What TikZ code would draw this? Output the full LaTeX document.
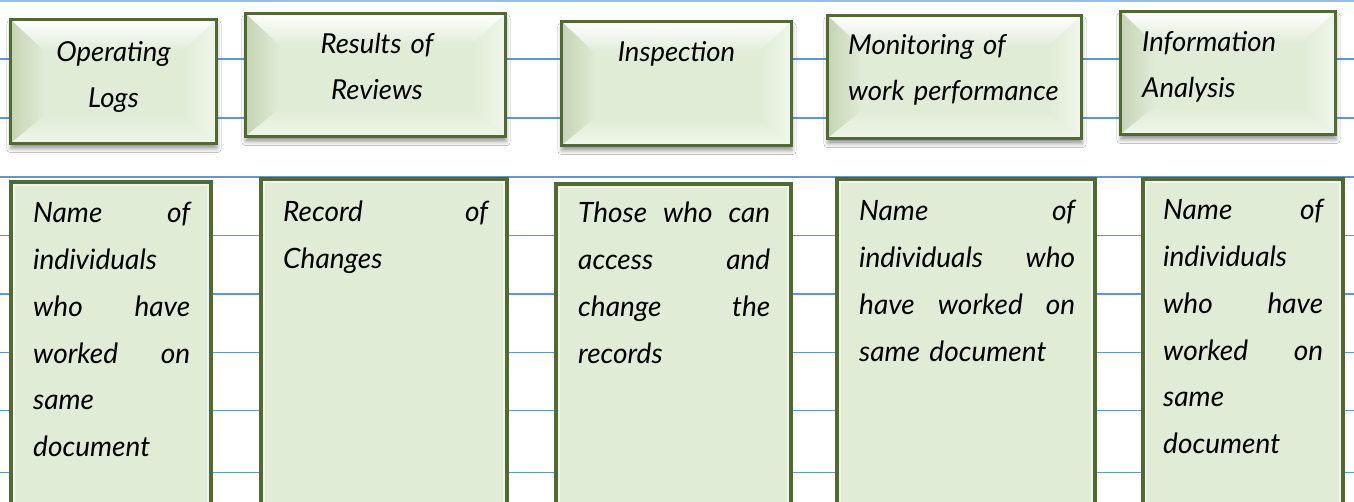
\documentclass[tikz,border=0pt]{standalone}
\usepackage{fontspec}
\setmainfont{Lato}
\usetikzlibrary{shadows.blur}
\definecolor{lineblue}{RGB}{95,152,214}
\definecolor{toplineblue}{RGB}{150,190,232}
\definecolor{dkgreen}{RGB}{80,106,50}
\definecolor{boxfill}{RGB}{224,236,214}
\definecolor{bevdark}{RGB}{196,211,181}
\definecolor{bevlight}{RGB}{240,246,234}
\newcommand\jl[1]{\hbox to \hsize{\spaceskip=0.3em plus 1fill\relax #1}\par}
\tikzset{
  ruling/.style={draw=lineblue, line width=1.6pt},
  topbox/.style={rectangle, draw=dkgreen, line width=2.6pt, fill=boxfill, inner sep=0pt,
    blur shadow={shadow xshift=0.5pt, shadow yshift=-5pt, shadow blur radius=4pt, shadow opacity=40},
    path picture={
      \coordinate (NW) at (path picture bounding box.north west);
      \coordinate (NE) at (path picture bounding box.north east);
      \coordinate (SW) at (path picture bounding box.south west);
      \coordinate (SE) at (path picture bounding box.south east);
      \shade[top color=white, bottom color=boxfill] (NW) -- (NE) -- ([shift={(-34pt,-32pt)}]NE) -- ([shift={(34pt,-32pt)}]NW) -- cycle;
      \shade[left color=bevdark, right color=boxfill] (NW) -- ([shift={(34pt,-32pt)}]NW) -- ([shift={(34pt,28pt)}]SW) -- (SW) -- cycle;
      \shade[left color=boxfill, right color=bevlight] (NE) -- ([shift={(-34pt,-32pt)}]NE) -- ([shift={(-34pt,28pt)}]SE) -- (SE) -- cycle;
      \shade[top color=boxfill, bottom color=bevlight] (SW) -- ([shift={(34pt,28pt)}]SW) -- ([shift={(-34pt,28pt)}]SE) -- (SE) -- cycle;
    }},
  botbox/.style={rectangle, draw=dkgreen, line width=3.6pt, fill=boxfill, inner sep=0pt,
    path picture={
      \draw[white, opacity=0.5, line width=2.5pt]
        ([shift={(3pt,-3pt)}]path picture bounding box.north west) rectangle
        ([shift={(-3pt,3pt)}]path picture bounding box.south east);
    }},
  toptext/.style={inner sep=0pt, font=\fontsize{27.5}{46}\selectfont\itshape},
  bottext/.style={inner sep=0pt, anchor=base west, align=left, font=\fontsize{28}{46.7}\selectfont\itshape}
}
\begin{document}
\begin{tikzpicture}[x=1pt,y=1pt]
\useasboundingbox (0,0) rectangle (1354,502);
\fill[white] (0,0) rectangle (1354,502);
% ruled lines
\draw[draw=toplineblue, line width=2pt] (0,501) -- (1354,501);
\foreach \py in {59.3,118.3,177.3,235.7,294.3,352.7,410.7,472.7}
  \draw[ruling] (0,502-\py) -- (1354,502-\py);

% top boxes
\node[topbox, minimum width=206.4pt, minimum height=124.4pt] (top1) at (113.5,420.5) {};
\node[topbox, minimum width=260.4pt, minimum height=123.4pt] (top2) at (375.5,427) {};
\node[topbox, minimum width=230.4pt, minimum height=124.4pt] (top3) at (676.5,418.5) {};
\node[topbox, minimum width=254.4pt, minimum height=123.4pt] (top4) at (954.5,425) {};
\node[topbox, minimum width=215.4pt, minimum height=123.4pt] (top5) at (1228,429) {};

\node[toptext, anchor=base, text width=200pt, align=center] (t1) at (113.5,440) {Operating\\Logs};
\node[toptext, anchor=base, text width=240pt, align=center] (t2) at (377,448) {Results of\\Reviews};
\node[toptext, anchor=base, text width=220pt, align=center] (t3) at (676.5,440) {Inspection};
\node[toptext, anchor=base west, text width=230pt, align=left] (t4) at (848,447) {Monitoring of\\work performance};
\node[toptext, anchor=base west, text width=190pt, align=left] (t5) at (1142,450) {Information\\Analysis};

% bottom boxes
\node[botbox, minimum width=200.4pt, minimum height=338pt] (bot1) at (111,151) {};
\node[botbox, minimum width=246.4pt, minimum height=341pt] (bot2) at (384,152.5) {};
\node[botbox, minimum width=235.4pt, minimum height=336pt] (bot3) at (673.5,150) {};
\node[botbox, minimum width=258.4pt, minimum height=341pt] (bot4) at (966,152.5) {};
\node[botbox, minimum width=200.4pt, minimum height=341pt] (bot5) at (1243,152.5) {};

\node[bottext, text width=157pt] (b1) at (33,279) {\jl{Name of}individuals\par\jl{who have}\jl{worked on}same\par document};
\node[bottext, text width=205pt] (b2) at (283,280) {\jl{Record of}Changes};
\node[bottext, text width=192pt] (b3) at (578,279) {\jl{Those who can}\jl{access and}\jl{change the}records};
\node[bottext, text width=216pt] (b4) at (859,281) {\jl{Name of}\jl{individuals who}\jl{have worked on}same document};
\node[bottext, text width=160pt] (b5) at (1163,282) {\jl{Name of}individuals\par\jl{who have}\jl{worked on}same\par document};
\end{tikzpicture}
\end{document}
